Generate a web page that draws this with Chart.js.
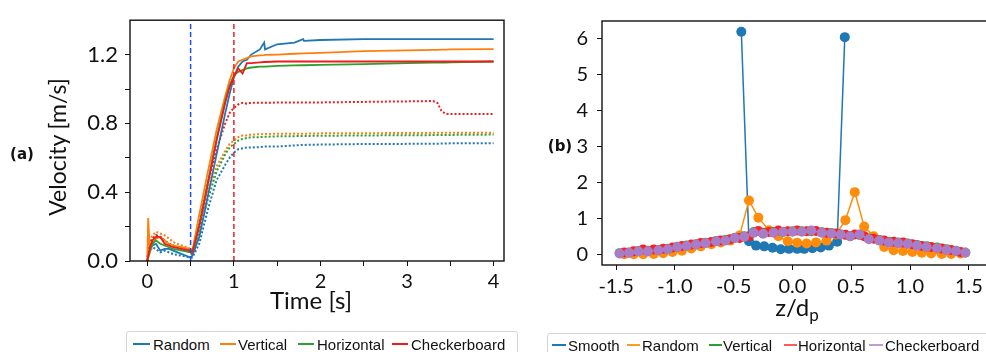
<!DOCTYPE html>
<html><head><meta charset="utf-8">
<script src="https://cdn.jsdelivr.net/npm/chart.js@4.4.1/dist/chart.umd.min.js"></script>
<style>
html,body{margin:0;padding:0;background:#fff;overflow:hidden}
#wrap{position:relative;width:986px;height:352px;overflow:hidden;font-family:Lato,sans-serif;color:#111}
.box{position:absolute}
.lbl{position:absolute;white-space:nowrap;transform:translate(-50%,-50%);line-height:1}
.tag{font-family:"DejaVu Sans",sans-serif;font-weight:bold;font-size:15px}
.legbox{position:absolute;border:1px solid #d4d4d4;border-radius:3px;background:#fff}
.it{position:absolute;white-space:nowrap;transform:translateY(-50%);font-family:"Liberation Sans",Arial,sans-serif;font-size:15px;line-height:1;color:#111}
.dash{position:absolute;height:2px}
</style></head>
<body><div id="wrap">
<div class="box" style="left:0;top:0;width:510px;height:300px"><canvas id="ca"></canvas></div>
<div class="box" style="left:560px;top:0;width:440px;height:300px"><canvas id="cb"></canvas></div>
<div class="lbl tag" style="left:22px;top:154px">(a)</div>
<div class="lbl tag" style="left:560px;top:146px">(b)</div>
<div class="lbl" style="left:57px;top:147px;font-size:23px;transform:translate(-50%,-50%) rotate(-90deg)">Velocity [m/s]</div>
<div class="lbl" style="left:311px;top:300px;font-size:24px">Time [s]</div>
<div class="lbl" style="left:797px;top:309px;font-size:24px">z/d<sub style="font-size:17px">p</sub></div>
<div class="legbox" style="left:126px;top:331px;width:390px;height:30px"></div>
<div class="legbox" style="left:547px;top:333px;width:460px;height:30px"></div>
</div>
<script>
// (a) velocity vs time
const time=[0,0.01,0.03,0.06,0.1,0.15,0.2,0.25,0.3,0.4,0.5,0.52,0.6,0.7,0.8,0.9,0.95,1.0,1.05,1.1,1.15,1.2,1.3,1.35,1.36,1.5,1.7,1.8,1.81,2.0,2.5,3.0,3.3,3.35,3.4,3.45,3.5,4.0];
const randomSolid=[0.00,0.03,0.07,0.09,0.10,0.06,0.07,0.07,0.06,0.04,0.02,0.03,0.14,0.38,0.62,0.86,0.97,1.07,1.13,1.16,1.17,1.20,1.23,1.27,1.23,1.26,1.27,1.29,1.28,1.285,1.29,1.29,1.29,1.29,1.29,1.29,1.29,1.29];
const verticalSolid=[0.00,0.25,0.05,0.10,0.13,0.14,0.12,0.10,0.09,0.08,0.07,0.06,0.27,0.52,0.76,0.96,1.05,1.12,1.16,1.17,1.18,1.19,1.195,1.197,1.198,1.20,1.205,1.207,1.207,1.21,1.22,1.225,1.228,1.228,1.229,1.229,1.23,1.232];
const horizontalSolid=[0.00,0.02,0.06,0.10,0.12,0.10,0.09,0.08,0.07,0.06,0.05,0.05,0.21,0.46,0.71,0.93,1.02,1.08,1.10,1.11,1.12,1.125,1.13,1.13,1.13,1.135,1.137,1.138,1.138,1.14,1.145,1.15,1.153,1.153,1.154,1.154,1.155,1.16];
const checkerSolid=[0.00,0.03,0.08,0.12,0.14,0.14,0.10,0.09,0.08,0.07,0.06,0.05,0.20,0.45,0.70,0.92,1.01,1.07,1.12,1.09,1.15,1.15,1.155,1.157,1.157,1.16,1.16,1.16,1.16,1.16,1.16,1.16,1.16,1.16,1.16,1.16,1.16,1.16];
const randomDot=[0.00,0.03,0.06,0.08,0.07,0.05,0.06,0.05,0.04,0.03,0.02,0.02,0.10,0.30,0.47,0.56,0.60,0.63,0.65,0.655,0.66,0.66,0.662,0.665,0.665,0.665,0.672,0.675,0.675,0.677,0.68,0.681,0.682,0.682,0.683,0.683,0.684,0.685];
const verticalDot=[0.00,0.08,0.12,0.15,0.17,0.16,0.15,0.13,0.11,0.09,0.07,0.05,0.20,0.40,0.55,0.64,0.68,0.70,0.72,0.73,0.73,0.735,0.737,0.738,0.738,0.74,0.74,0.74,0.74,0.742,0.743,0.744,0.745,0.745,0.745,0.745,0.745,0.745];
const horizontalDot=[0.00,0.05,0.10,0.13,0.15,0.14,0.12,0.10,0.09,0.07,0.05,0.03,0.17,0.36,0.52,0.62,0.66,0.68,0.70,0.71,0.715,0.72,0.72,0.722,0.722,0.725,0.726,0.727,0.727,0.728,0.73,0.731,0.732,0.732,0.732,0.732,0.733,0.735];
const checkerDot=[0.00,0.06,0.10,0.13,0.15,0.14,0.12,0.10,0.09,0.07,0.06,0.04,0.22,0.45,0.65,0.80,0.86,0.89,0.91,0.92,0.915,0.92,0.92,0.92,0.92,0.921,0.922,0.922,0.922,0.922,0.925,0.928,0.93,0.92,0.87,0.855,0.855,0.855];
const markerTimes=[0.5,1.0];
const timeTicks=[0,0.5,1,1.5,2,2.5,3,3.5,4];
const velTicks=[0,0.2,0.4,0.6,0.8,1.0,1.2];

// (b) profile vs z/dp
const zSmooth=[-0.435,-0.37,-0.31,-0.24,-0.17,-0.10,-0.03,0.04,0.10,0.17,0.24,0.31,0.38,0.445];
const smooth=[6.2,0.36,0.24,0.22,0.18,0.14,0.15,0.15,0.15,0.17,0.19,0.24,0.35,6.05];
const zOdd=[-1.43,-1.35,-1.27,-1.18,-1.10,-1.02,-0.94,-0.86,-0.78,-0.69,-0.61,-0.53,-0.45,-0.37,-0.29,-0.20,-0.12,-0.04,0.04,0.12,0.20,0.29,0.37,0.45,0.53,0.61,0.69,0.78,0.86,0.94,1.02,1.10,1.18,1.27,1.35,1.43];
const random=[0.0,0.0,0.0,0.01,0.03,0.06,0.10,0.16,0.22,0.28,0.33,0.38,0.52,1.5,1.02,0.67,0.5,0.36,0.32,0.30,0.33,0.38,0.55,0.95,1.73,0.77,0.5,0.2,0.11,0.09,0.06,0.04,0.02,0.01,0.01,0.02];
const horizontal=[0.05,0.08,0.13,0.13,0.15,0.19,0.23,0.27,0.31,0.34,0.38,0.42,0.45,0.5,0.65,0.62,0.66,0.64,0.66,0.64,0.65,0.6,0.58,0.54,0.55,0.5,0.43,0.38,0.35,0.33,0.28,0.23,0.2,0.16,0.12,0.06];
const zEven=[-1.47,-1.39,-1.31,-1.23,-1.14,-1.06,-0.98,-0.90,-0.82,-0.74,-0.65,-0.57,-0.49,-0.41,-0.33,-0.25,-0.16,-0.08,0.00,0.08,0.16,0.25,0.33,0.41,0.49,0.57,0.65,0.74,0.82,0.90,0.98,1.06,1.14,1.23,1.31,1.39,1.47];
const vertical=[0.03,0.05,0.09,0.10,0.12,0.15,0.21,0.24,0.28,0.32,0.37,0.40,0.46,0.50,0.62,0.60,0.62,0.63,0.64,0.64,0.64,0.61,0.59,0.55,0.50,0.54,0.44,0.40,0.35,0.33,0.30,0.26,0.22,0.19,0.14,0.10,0.05];
const checkerboard=[0.02,0.04,0.08,0.08,0.11,0.14,0.2,0.23,0.27,0.31,0.36,0.38,0.45,0.49,0.6,0.57,0.6,0.62,0.63,0.63,0.66,0.6,0.58,0.55,0.5,0.55,0.42,0.38,0.33,0.31,0.29,0.24,0.2,0.17,0.12,0.09,0.04];
const zTicks=[-1.5,-1.0,-0.5,0,0.5,1.0,1.5];
const profTicks=[0,1,2,3,4,5,6];

const C={blue:'#1f77b4',orange:'#ff7f0e',green:'#2ca02c',red:'#ee1c1c',purple:'#a97cc8'};
const pts=(xs,ys)=>xs.map((x,i)=>({x,y:ys[i]}));
const frame={id:'frame',afterDraw(c){const a=c.chartArea,x=c.ctx;x.save();x.strokeStyle='#111';x.lineWidth=1.4;x.strokeRect(a.left,a.top,a.right-a.left,a.bottom-a.top);x.restore();}};
const grid={drawOnChartArea:false,drawTicks:true,tickLength:5,color:'#111',lineWidth:1};

function solid(d,col,o){return {data:pts(time,d),borderColor:col,borderWidth:1.8,pointRadius:0,showLine:true,order:o};}
function dotted(d,col,o){return {data:pts(time,d),borderColor:col,borderWidth:2,borderDash:[2,2],pointRadius:0,showLine:true,order:o};}
function vline(t,col){return {data:[{x:t,y:0},{x:t,y:1.4}],borderColor:col,borderWidth:1.5,borderDash:[5,3],pointRadius:0,showLine:true,order:0};}

new Chart(document.getElementById('ca'),{type:'scatter',
  data:{datasets:[
    solid(randomSolid,C.blue,4),solid(verticalSolid,C.orange,3),solid(horizontalSolid,C.green,2),solid(checkerSolid,C.red,1),
    dotted(randomDot,C.blue,8),dotted(verticalDot,C.orange,7),dotted(horizontalDot,C.green,6),dotted(checkerDot,C.red,5),
    vline(markerTimes[0],'#1d4fe0'),vline(markerTimes[1],'#ea1f26')]},
  options:{responsive:true,maintainAspectRatio:false,animation:false,events:[],
    layout:{padding:{top:13,right:6,left:0,bottom:0}},
    plugins:{legend:{display:false},tooltip:{enabled:false}},
    scales:{
      x:{type:'linear',min:-0.2,max:4.12,border:{display:false},grid,
        afterBuildTicks:s=>{s.ticks=timeTicks.map(v=>({value:v}));},afterFit:s=>{s.height=39;},
        ticks:{padding:4,font:{family:'Lato',size:20},color:'#111',maxRotation:0,autoSkip:false,callback:v=>Number.isInteger(v)?String(v):''}},
      y:{type:'linear',min:0,max:1.4,border:{display:false},grid,
        afterBuildTicks:s=>{s.ticks=velTicks.map(v=>({value:v}));},afterFit:s=>{s.width=130;},
        ticks:{padding:7,font:{family:'Lato',size:22},color:'#111',autoSkip:false,callback:v=>Math.round(v*10)%4===0?v.toFixed(1):''}}}},
  plugins:[frame]});

function prof(xs,ys,col,o){return {data:pts(xs,ys),borderColor:col,backgroundColor:col,borderWidth:1.5,pointRadius:5,pointBorderWidth:0,pointBackgroundColor:col,showLine:true,order:o};}
new Chart(document.getElementById('cb'),{type:'scatter',
  data:{datasets:[prof(zSmooth,smooth,C.blue,5),prof(zOdd,random,'#ff8c0a',4),prof(zEven,vertical,C.green,3),prof(zOdd,horizontal,'#ff1e1e',2),prof(zEven,checkerboard,C.purple,1)]},
  options:{responsive:true,maintainAspectRatio:false,animation:false,events:[],
    layout:{padding:{top:15,right:10,left:0,bottom:0}},
    plugins:{legend:{display:false},tooltip:{enabled:false}},
    scales:{
      x:{type:'linear',min:-1.62,max:1.68,border:{display:false},grid,
        afterBuildTicks:s=>{s.ticks=zTicks.map(v=>({value:v}));},afterFit:s=>{s.height=35;},
        ticks:{padding:5,font:{family:'Lato',size:20},color:'#111',maxRotation:0,autoSkip:false,callback:v=>v.toFixed(1)}},
      y:{type:'linear',min:-0.3,max:6.5,border:{display:false},grid,
        afterBuildTicks:s=>{s.ticks=profTicks.map(v=>({value:v}));},afterFit:s=>{s.width=42;},
        ticks:{padding:9,font:{family:'Lato',size:20},color:'#111',autoSkip:false,callback:v=>String(v)}}}},
  plugins:[frame]});

// legends: [label, colour, dash left, dash width, text left]
const legA=[['Random',C.blue,133,17,153],['Vertical',C.orange,220,16,238],['Horizontal',C.green,298,16,317],['Checkerboard',C.red,392,16,411]];
const legB=[['Smooth','#1f77b4',552,14,568],['Random','#ff9a1f',627,13,642],['Vertical','#2ca02c',709,13,723],['Horizontal','#ff5a5a',784,13,798],['Checkerboard','#c39bd3',869,14,885]];
const wrap=document.getElementById('wrap');
function addLeg(items,y){items.forEach(([n,c,dx,dw,tx])=>{
  const d=document.createElement('div');d.className='dash';d.style.cssText+=`left:${dx}px;top:${y-1}px;width:${dw}px;background:${c}`;wrap.appendChild(d);
  const t=document.createElement('div');t.className='it';t.style.left=tx+'px';t.style.top=y+'px';t.textContent=n;wrap.appendChild(t);});}
addLeg(legA,344);addLeg(legB,345);
</script>
</body></html>
